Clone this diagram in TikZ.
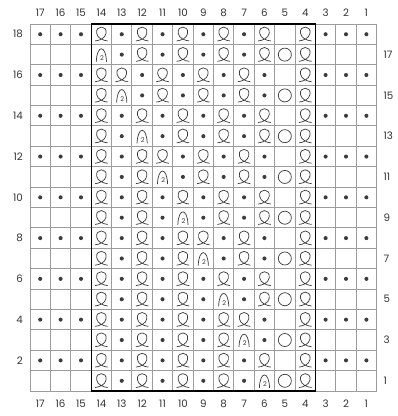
\documentclass[tikz,border=0pt]{standalone}
\usepackage{fontspec}
\setmainfont{Poppins}
\usepackage{xcolor}
\definecolor{gridgray}{HTML}{9C9C9C}
\definecolor{ink}{HTML}{3C3C3C}
\definecolor{numgray}{HTML}{333333}

\begin{document}
\begin{tikzpicture}[
    x=0.6cm, y=0.6cm,
    lbl/.style={font=\fontsize{8.6}{9}\selectfont, text=numgray, inner sep=0pt},
    sym/.style={draw=ink, line width=0.6pt},
    gridline/.style={draw=gridgray, line width=0.8pt},
    frame/.style={draw=black, line width=1.1pt},
    % purl: dot
    stp/.pic={\fill[ink] (0,0) circle (0.1);},
    % knit tbl: twisted loop
    stt/.pic={\draw[sym] (-0.31,-0.33) .. controls (-0.1,-0.31) and (0.19,-0.2) .. (0.23,0.04)
        .. controls (0.27,0.26) and (0.13,0.35) .. (0,0.35)
        .. controls (-0.13,0.35) and (-0.27,0.26) .. (-0.23,0.04)
        .. controls (-0.19,-0.2) and (0.1,-0.31) .. (0.31,-0.33);},
    % two together: arch with 2
    sta/.pic={\draw[sym] (-0.25,-0.35) .. controls (-0.22,0.5) and (0.22,0.5) .. (0.25,-0.35);
        \node[font=\fontsize{5.5}{6}\selectfont, text=ink, inner sep=0pt] at (0.03,-0.17) {2};},
    % yarn over: circle
    sto/.pic={\draw[sym] (0,0) circle (0.32);},
    % no stitch symbol
    ste/.pic={}
]
    \useasboundingbox (-1.473,-1.227) rectangle (18.02,19.18);

    % Grid and pattern repeat frame
    \draw[gridline, step=1] (0,0) grid (17,18);
    \draw[frame] (3,0) rectangle (14,18);

    % Column numbers, top and bottom
    \foreach \n in {1,...,17} {
        \node[lbl] (ct\n) at (17.5-\n, 18.57) {\n};
        \node[lbl] (cb\n) at (17.5-\n, -0.64) {\n};
    }

    % Row numbers: even on the left, odd on the right
    \foreach \r in {2,4,...,18}
        \node[lbl, anchor=east] (rw\r) at (-0.34, \r-0.5) {\r};
    \foreach \r in {1,3,...,17}
        \node[lbl, anchor=west] (rw\r) at (17.33, \r-0.5) {\r};

    % Stitches, columns 17 to 1
    \foreach \r/\codes in {
        18/{p,p,p,t,p,t,p,t,p,t,p,t,e,t,p,p,p},
        17/{e,e,e,a,p,t,p,t,p,t,p,t,o,t,e,e,e},
        16/{p,p,p,t,t,p,t,p,t,p,t,p,e,t,p,p,p},
        15/{e,e,e,t,a,p,t,p,t,p,t,p,o,t,e,e,e},
        14/{p,p,p,t,p,t,p,t,p,t,p,t,e,t,p,p,p},
        13/{e,e,e,t,p,a,p,t,p,t,p,t,o,t,e,e,e},
        12/{p,p,p,t,p,t,t,p,t,p,t,p,e,t,p,p,p},
        11/{e,e,e,t,p,t,a,p,t,p,t,p,o,t,e,e,e},
        10/{p,p,p,t,p,t,p,t,p,t,p,t,e,t,p,p,p},
        9/{e,e,e,t,p,t,p,a,p,t,p,t,o,t,e,e,e},
        8/{p,p,p,t,p,t,p,t,t,p,t,p,e,t,p,p,p},
        7/{e,e,e,t,p,t,p,t,a,p,t,p,o,t,e,e,e},
        6/{p,p,p,t,p,t,p,t,p,t,p,t,e,t,p,p,p},
        5/{e,e,e,t,p,t,p,t,p,a,p,t,o,t,e,e,e},
        4/{p,p,p,t,p,t,p,t,p,t,t,p,e,t,p,p,p},
        3/{e,e,e,t,p,t,p,t,p,t,a,p,o,t,e,e,e},
        2/{p,p,p,t,p,t,p,t,p,t,p,t,e,t,p,p,p},
        1/{e,e,e,t,p,t,p,t,p,t,p,a,o,t,e,e,e}}
        \foreach \c [count=\i] in \codes
            \pic at (\i-0.5, \r-0.5) {st\c};
\end{tikzpicture}
\end{document}
